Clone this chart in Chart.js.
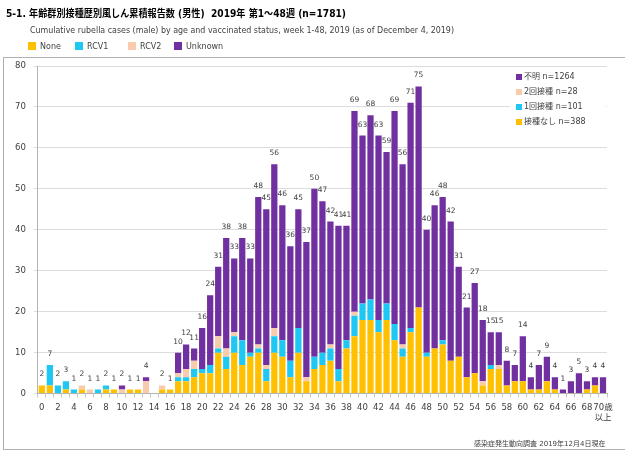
<!DOCTYPE html>
<html>
<head>
<meta charset="utf-8">
<script src="https://cdn.jsdelivr.net/npm/chart.js@4"></script>
<style>
html, body { margin: 0; padding: 0; background: #fff; }
#wrap { width: 625px; height: 455px; }
</style>
</head>
<body>
<div id="wrap"><canvas id="c"></canvas></div>
<script>
// age groups 0..70 (70 = 70歳以上)
const ages = [];
for (let a = 0; a <= 70; a++) ages.push(a === 70 ? '70歳以上' : String(a));

// cases by vaccination status
const noneCases = [2,2,0,1,0,1,0,0,1,1,0,1,1,0,0,1,1,
  3,3,4,5,5,10,6,10,7,9,
  10,3,10,9,4,10,3,6,7,8,3,11,
  14,18,18,15,18,13,9,15,21,
  9,11,12,8,9,4,5,2,6,6,
  2,3,3,1,1,3,1,0,0,0,1,2,0];
const rcv1Cases = [0,5,2,2,1,0,0,1,1,0,0,0,0,0,0,0,0,
  1,1,2,1,2,1,3,4,6,1,
  1,3,4,4,4,6,0,3,3,3,3,2,
  5,4,5,3,4,4,2,1,0,
  1,0,1,0,0,0,0,0,1,0,
  0,0,0,0,0,0,0,0,0,0,0,0,0];
const rcv2Cases = [0,0,0,0,0,1,1,0,0,0,1,0,0,3,0,1,0,
  1,2,2,0,0,3,2,1,0,0,
  1,1,2,0,0,0,1,0,0,1,0,0,
  1,0,0,0,0,0,1,0,0,
  0,0,0,0,0,0,0,1,0,1,
  0,0,0,0,0,0,0,0,0,0,0,0,0];
const unknownCases = [0,0,0,0,0,0,0,0,0,0,1,0,0,1,0,0,0,
  5,6,3,10,17,17,27,18,25,23,
  36,38,40,33,28,29,33,41,37,30,35,28,
  49,41,45,45,37,52,44,55,54,
  30,35,35,34,22,17,22,15,8,8,
  6,4,11,3,6,6,3,1,3,5,2,2,4];

const seriesNames = ['None', 'RCV1', 'RCV2', 'Unknown'];
const seriesColors = ['#FFC000', '#1EC8F2', '#F8CBAD', '#7030A0'];
const innerLegend = ['不明 n=1264', '2回接種 n=28', '1回接種 n=101', '接種なし n=388'];
const yTicks = [0, 10, 20, 30, 40, 50, 60, 70, 80];

const FONT = "'DejaVu Sans', 'Noto Sans CJK JP', sans-serif";
const TEXT = '#404040';

// Titles, legends, frame and the total above each bar
const decor = {
    id: 'decor',
    beforeDraw(chart) {
        const ctx = chart.ctx;
        ctx.save();
        ctx.fillStyle = '#fff';
        ctx.fillRect(0, 0, chart.width, chart.height);
        ctx.strokeStyle = '#b0b0b0';
        ctx.lineWidth = 1;
        ctx.strokeRect(3.5, 57.5, 640, 392);
        ctx.restore();
    },
    afterDatasetsDraw(chart) {
        const ctx = chart.ctx;
        const x = chart.scales.x, y = chart.scales.y;
        ctx.save();
        ctx.font = "7.5px " + FONT;
        ctx.fillStyle = TEXT;
        ctx.textAlign = 'center';
        ctx.textBaseline = 'alphabetic';
        ages.forEach((a, i) => {
            const total = noneCases[i] + rcv1Cases[i] + rcv2Cases[i] + unknownCases[i];
            if (!total) return;
            ctx.fillText(String(total), x.getPixelForValue(i), y.getPixelForValue(total) - 9);
        });
        ctx.restore();
    },
    afterDraw(chart) {
        const ctx = chart.ctx;
        ctx.save();
        ctx.textBaseline = 'middle';
        ctx.textAlign = 'left';
        ctx.fillStyle = '#000';
        ctx.font = "bold 10px " + FONT;
        ctx.fillText('5-1. 年齢群別接種歴別風しん累積報告数 (男性)  2019年 第1～48週 (n=1781)', 6, 14, 340);
        ctx.fillStyle = TEXT;
        ctx.font = "8px " + FONT;
        ctx.fillText('Cumulative rubella cases (male) by age and vaccinated status, week 1-48, 2019 (as of December 4, 2019)', 30, 31, 424);

        // top legend
        const lx = [28, 75, 128, 174];
        seriesNames.forEach((n, i) => {
            ctx.fillStyle = seriesColors[i];
            ctx.fillRect(lx[i], 42, 8, 8);
            ctx.fillStyle = TEXT;
            ctx.fillText(n, lx[i] + 12, 46.5);
        });

        // inner legend (top right)
        ctx.fillStyle = '#fff';
        ctx.fillRect(510, 69, 96, 60);
        ctx.font = "8px " + FONT;
        const order = [3, 2, 1, 0];
        innerLegend.forEach((t, k) => {
            const yy = 77 + k * 15;
            ctx.fillStyle = seriesColors[order[k]];
            ctx.fillRect(516, yy - 3, 6, 6);
            ctx.fillStyle = TEXT;
            ctx.fillText(t, 524, yy);
        });

        // footer
        ctx.font = "7px " + FONT;
        ctx.fillText('感染症発生動向調査 2019年12月4日現在', 474, 444);
        ctx.restore();
    }
};

const ctx = document.getElementById('c').getContext('2d');
new Chart(ctx, {
    type: 'bar',
    data: {
        labels: ages,
        datasets: [noneCases, rcv1Cases, rcv2Cases, unknownCases].map((d, i) => ({
            label: seriesNames[i],
            data: d,
            backgroundColor: seriesColors[i],
            borderWidth: 0,
            barPercentage: 0.78,
            categoryPercentage: 1.0
        }))
    },
    options: {
        responsive: true,
        maintainAspectRatio: false,
        animation: false,
        layout: { padding: { top: 66, left: 7, right: 18, bottom: 27 } },
        plugins: { legend: { display: false }, tooltip: { enabled: false } },
        scales: {
            x: {
                stacked: true,
                grid: { display: true, drawOnChartArea: false, offset: true, tickLength: 4, color: '#c8c8c8' },
                border: { color: '#b4b4b4' },
                ticks: {
                    autoSkip: false,
                    maxRotation: 0,
                    padding: 5,
                    color: TEXT,
                    font: { size: 8.5, family: FONT },
                    callback: (v, i) => i === 70 ? ['70歳', '以上'] : (i % 2 === 0 ? String(i) : '')
                }
            },
            y: {
                stacked: true,
                min: 0,
                max: 80,
                afterBuildTicks: axis => { axis.ticks = yTicks.map(v => ({ value: v })); },
                grid: { color: '#dcdcdc', tickLength: 4 },
                border: { color: '#b4b4b4' },
                ticks: { padding: 8, color: TEXT, font: { size: 8.5, family: FONT } }
            }
        }
    },
    plugins: [decor]
});
</script>
</body>
</html>
